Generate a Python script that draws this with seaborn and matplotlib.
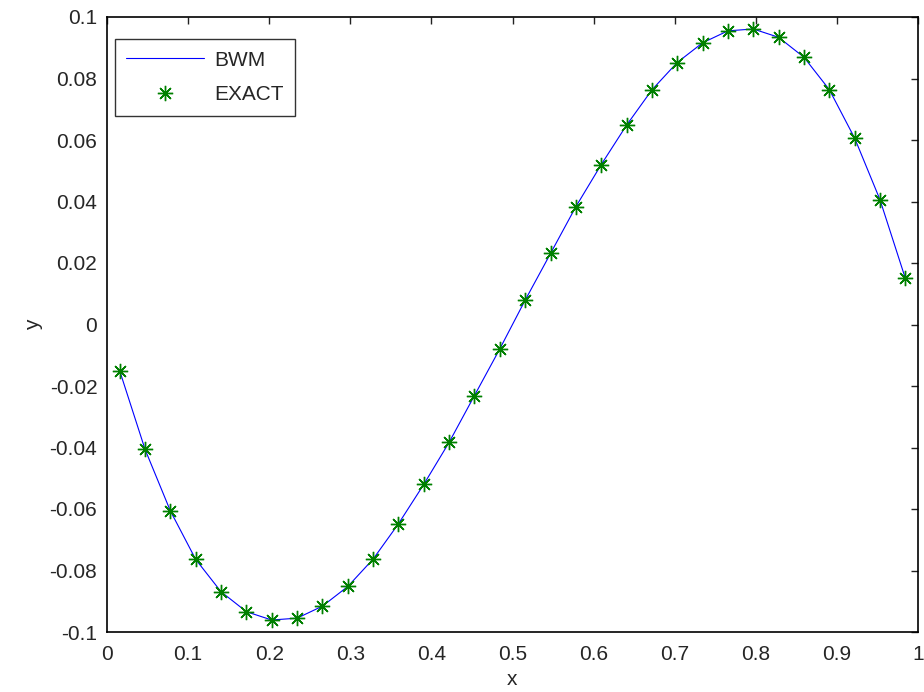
import matplotlib
matplotlib.use('Agg')
import matplotlib.pyplot as plt
import seaborn as sns

# data
x_pts = [0.0156, 0.0469, 0.0781, 0.1094, 0.1406, 0.1719, 0.2031, 0.2344,
         0.2656, 0.2969, 0.3281, 0.3594, 0.3906, 0.4219, 0.4531, 0.4844,
         0.5156, 0.5469, 0.5781, 0.6094, 0.6406, 0.6719, 0.7031, 0.7344,
         0.7656, 0.7969, 0.8281, 0.8594, 0.8906, 0.9219, 0.9531, 0.9844]

bwm_y = [-0.0150, -0.0406, -0.0606, -0.0764, -0.0869, -0.0934, -0.0961, -0.0955,
         -0.0916, -0.0852, -0.0763, -0.0648, -0.0520, -0.0383, -0.0231, -0.0079,
         0.0079, 0.0231, 0.0383, 0.0520, 0.0648, 0.0763, 0.0852, 0.0916,
         0.0955, 0.0961, 0.0934, 0.0869, 0.0764, 0.0606, 0.0406, 0.0150]

exact_y = [-0.0150, -0.0406, -0.0606, -0.0764, -0.0869, -0.0934, -0.0961, -0.0955,
           -0.0916, -0.0852, -0.0763, -0.0648, -0.0520, -0.0383, -0.0231, -0.0079,
           0.0079, 0.0231, 0.0383, 0.0520, 0.0648, 0.0763, 0.0852, 0.0916,
           0.0955, 0.0961, 0.0934, 0.0869, 0.0764, 0.0606, 0.0406, 0.0150]

x_ticks = [0, 0.1, 0.2, 0.3, 0.4, 0.5, 0.6, 0.7, 0.8, 0.9, 1]
x_labels = ['0', '0.1', '0.2', '0.3', '0.4', '0.5', '0.6', '0.7', '0.8', '0.9', '1']
y_ticks = [-0.1, -0.08, -0.06, -0.04, -0.02, 0, 0.02, 0.04, 0.06, 0.08, 0.1]
y_labels = ['-0.1', '-0.08', '-0.06', '-0.04', '-0.02', '0', '0.02', '0.04', '0.06', '0.08', '0.1']

sns.set_style('white')
plt.rcParams['font.family'] = ['Liberation Sans', 'DejaVu Sans']

fig = plt.figure(figsize=(9.24, 6.92), dpi=100)
ax = fig.add_axes([107/924, 1 - 632/692, 811/924, 615/692])

sns.lineplot(x=x_pts, y=bwm_y, color='#0000ff', linewidth=0.8, label='BWM', ax=ax)
# MATLAB style asterisk markers
sns.lineplot(x=x_pts, y=exact_y, color='#008000', linestyle='none', marker=(8, 2, 0),
             markersize=11, markeredgewidth=1.0, markeredgecolor='#008000',
             label='EXACT', ax=ax)

ax.set_xlim(0, 1)
ax.set_ylim(-0.1, 0.1)
ax.set_xticks(x_ticks)
ax.set_xticklabels(x_labels)
ax.set_yticks(y_ticks)
ax.set_yticklabels(y_labels)

ax.tick_params(direction='in', length=5, width=1, color='#222222', labelsize=15,
               top=True, right=True)
ax.tick_params(axis='x', pad=9)
ax.tick_params(axis='y', pad=7)
for s in ax.spines.values():
    s.set_color('black')
    s.set_linewidth(1.2)

ax.set_xlabel('x', fontsize=15, labelpad=5)
ax.set_ylabel('y', fontsize=15, labelpad=5)

leg = ax.legend(loc='upper left', bbox_to_anchor=(0.0099, 0.964), borderaxespad=0,
                fontsize=15, frameon=True, fancybox=False, handlelength=3.7,
                borderpad=0.55, labelspacing=0.75, handletextpad=0.5)
leg.get_frame().set_edgecolor('black')
leg.get_frame().set_linewidth(1.0)

fig.savefig('out.png', dpi=100)
